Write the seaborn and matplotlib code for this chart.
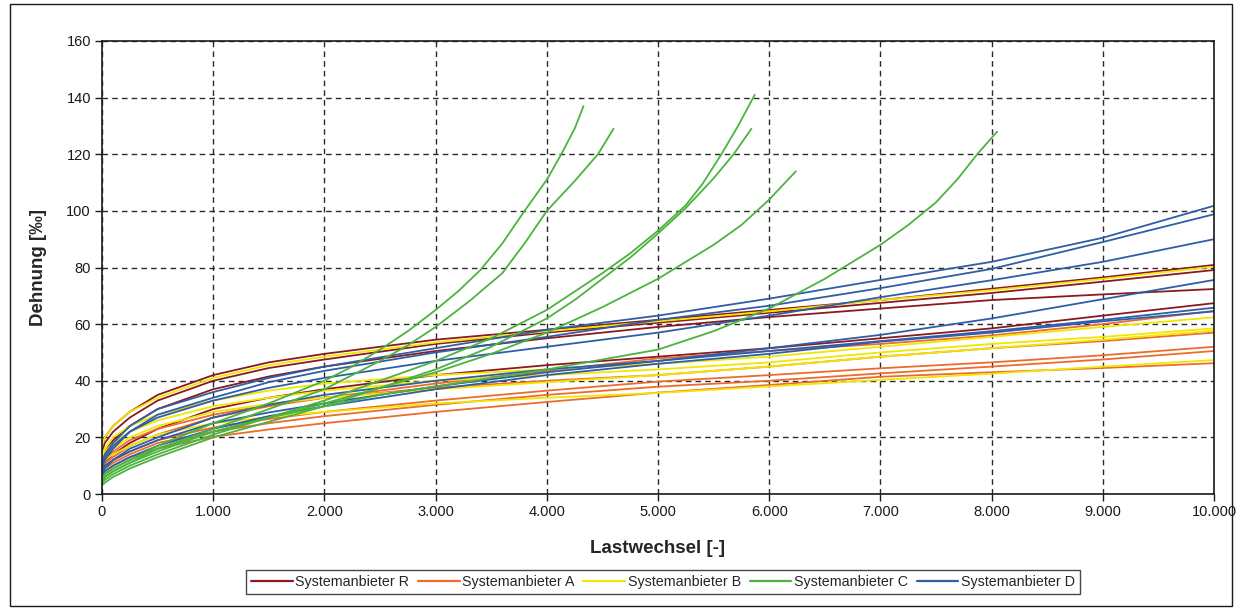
import numpy as np
import pandas as pd
import matplotlib
matplotlib.use("Agg")
import matplotlib.pyplot as plt
from matplotlib.lines import Line2D
from matplotlib.patches import Rectangle
import seaborn as sns

# ---------------- data ----------------
X = [0, 25, 100, 250, 500, 1000, 1500, 2000, 3000, 4000, 5000, 6000, 7000, 8000, 9000, 10000]

# Systemanbieter R (dark red)
R1 = [17, 20, 24, 29, 35, 42, 46.5, 49.5, 54.5, 58, 61.5, 65, 68.5, 72.5, 76.5, 80.9]
R2 = [15, 18, 22, 27, 33, 40, 44.5, 47.5, 53, 57, 60.5, 64, 67.5, 71, 75, 79.1]
R3 = [12, 15, 19, 24, 30, 37, 41.5, 45, 50.5, 55, 59, 62.5, 65.5, 68.5, 70.5, 72.4]
R4 = [9, 11, 14, 18, 23, 30, 34, 37, 42, 45.5, 48.5, 51.5, 55, 58.5, 63, 67.4]

# Systemanbieter A (orange)
A1 = [9, 11, 13, 17, 21, 27, 31, 34, 39, 43.5, 47.9, 50.5, 53, 56, 60, 64.7]
A2 = [10, 12, 15, 19, 23, 28, 31.5, 34, 37.5, 40, 42, 45, 48.5, 51.5, 54, 57]
A3 = [8, 10, 12, 15, 19, 23.5, 26.5, 29, 33, 36.5, 39.7, 42, 44.4, 46.5, 49, 52]
A4 = [7, 8, 10, 13, 16, 20.2, 22.8, 25, 29, 32.5, 35.8, 38.5, 41.4, 43, 44.5, 46.2]
A5 = [8, 9, 11, 14, 18, 22, 25, 27.5, 31.5, 35, 37.9, 40, 42.6, 45, 47.5, 50.5]

# Systemanbieter B (yellow)
B1 = [17, 20, 24, 29, 34, 41, 45.5, 48.5, 53.5, 57.5, 61, 64.5, 68.5, 72, 76, 80.3]
B2 = [14, 16, 20, 24, 28, 33, 36.5, 39, 42, 44, 46, 48.5, 52, 55.5, 59, 62.4]
B3 = [13, 15, 18, 22, 26, 31, 34, 36.5, 40, 42, 44, 46.5, 50, 53, 55.5, 58.5]
B4 = [11, 13, 16, 20, 24, 29, 31.8, 34, 37, 39.5, 42, 45, 48.5, 51.5, 54.5, 57.7]
B5 = [10, 12, 14, 17, 21, 25, 27.2, 29, 32, 34, 35.7, 38, 40.3, 42.5, 45, 47.3]

# Systemanbieter D (blue)
D1 = [10, 14, 18, 24, 30, 36, 41, 45, 51.5, 58, 63, 69, 75.6, 82, 90.5, 101.8]
D2 = [9, 12, 16, 22, 28, 34, 39.5, 43.5, 50, 55.5, 61.5, 66.5, 72.7, 79.5, 89, 98.8]
D3 = [11, 13, 17, 22, 27, 33, 37.5, 41, 47, 52, 57, 63, 69.5, 75.5, 82, 90]
D4 = [8, 10, 12, 15, 19, 25, 28.8, 32, 38, 43, 47, 51.5, 56.2, 62, 68.8, 75.6]
D5 = [7, 9, 12, 16, 20, 27, 31.5, 35, 40, 44, 47, 50.5, 54, 57.5, 61.5, 65.8]
D6 = [6, 8, 10, 13, 17, 23, 27.5, 31, 37, 42, 46, 49.5, 53.8, 57, 61, 64.5]

# Systemanbieter C (green) - each test stops at its own end
C1_x = [0, 25, 100, 250, 500, 1000, 1500, 2000, 2250, 2500, 2750, 3000, 3200, 3400, 3600,
        3800, 4000, 4130, 4250, 4330]
C1_y = [5, 7, 9, 12, 17, 25, 32, 40, 45, 51, 57.5, 65, 71.5, 79, 88.5, 100, 111, 120, 129, 137]
C2_x = [0, 25, 100, 250, 500, 1000, 1500, 2000, 2500, 2750, 3000, 3300, 3600, 3800, 4000,
        4250, 4460, 4600]
C2_y = [4, 6, 8, 11, 16, 23, 30, 37, 47, 52.5, 59, 68, 78, 88.5, 100, 110.5, 120, 129]
C3_x = [0, 25, 100, 250, 500, 1000, 1500, 2000, 2500, 3000, 3500, 4000, 4250, 4500, 4750,
        5000, 5250, 5400, 5570, 5720, 5870]
C3_y = [4, 5, 7, 10, 14, 21, 27, 33, 40, 47, 55, 65, 71.5, 78, 85, 93, 102, 109.5, 120, 130, 141]
C4_x = [0, 25, 100, 250, 500, 1000, 1500, 2000, 2500, 3000, 3500, 4000, 4250, 4500, 4750,
        5000, 5250, 5500, 5680, 5840]
C4_y = [3, 4, 6, 9, 13, 20, 25.5, 31, 37.5, 44, 52, 62, 68.5, 76, 83.5, 92, 101, 111.5, 120, 129]
C5_x = [0, 25, 100, 250, 500, 1000, 1500, 2000, 2500, 3000, 3500, 4000, 4500, 5000, 5250,
        5500, 5750, 5890, 6000, 6120, 6240]
C5_y = [5, 6, 8, 11, 15, 22, 27, 32, 37.5, 43, 49.5, 57, 66, 76, 82, 88, 95, 100, 104, 109, 114]
C6_x = [0, 25, 100, 250, 500, 1000, 1500, 2000, 2500, 3000, 3500, 4000, 4500, 5000, 5500,
        6000, 6500, 7000, 7250, 7500, 7700, 7870, 8050]
C6_y = [6, 7, 9, 12, 16, 22, 27, 31, 35, 38, 41, 44, 47.5, 51, 57.5, 65.5, 76, 88, 95, 103,
        111.5, 120, 128]

SUPPLIERS = ["Systemanbieter R", "Systemanbieter A", "Systemanbieter B",
             "Systemanbieter C", "Systemanbieter D"]
COLORS = {"Systemanbieter R": "#8b1a1f",
          "Systemanbieter A": "#ec6b2d",
          "Systemanbieter B": "#f2e600",
          "Systemanbieter C": "#4cb33e",
          "Systemanbieter D": "#2f5ea6"}

X_TICKS = list(range(0, 10001, 1000))
X_TICKLABELS = ["0", "1.000", "2.000", "3.000", "4.000", "5.000",
                "6.000", "7.000", "8.000", "9.000", "10.000"]
Y_TICKS = list(range(0, 161, 20))

# ---------------- build long table ----------------
rows = []
def add(name, sup, xs, ys):
    for xv, yv in zip(xs, ys):
        rows.append({"Lastwechsel": xv, "Dehnung": yv, "curve": name, "supplier": sup})

for n, c in [("R1", R1), ("R2", R2), ("R3", R3), ("R4", R4)]:
    add(n, "Systemanbieter R", X, c)
for n, c in [("A1", A1), ("A2", A2), ("A3", A3), ("A4", A4), ("A5", A5)]:
    add(n, "Systemanbieter A", X, c)
for n, c in [("B1", B1), ("B2", B2), ("B3", B3), ("B4", B4), ("B5", B5)]:
    add(n, "Systemanbieter B", X, c)
for n, cx, cy in [("C1", C1_x, C1_y), ("C2", C2_x, C2_y), ("C3", C3_x, C3_y),
                  ("C4", C4_x, C4_y), ("C5", C5_x, C5_y), ("C6", C6_x, C6_y)]:
    add(n, "Systemanbieter C", cx, cy)
for n, c in [("D1", D1), ("D2", D2), ("D3", D3), ("D4", D4), ("D5", D5), ("D6", D6)]:
    add(n, "Systemanbieter D", X, c)
df = pd.DataFrame(rows)

# ---------------- plot ----------------
sns.set_style("white")
plt.rcParams["font.family"] = ["Liberation Sans", "DejaVu Sans"]

fig = plt.figure(figsize=(12.44, 6.08), dpi=100)
ax = fig.add_axes([102 / 1244, 1 - 494 / 608, (1214 - 102) / 1244, (494 - 41) / 608])

order = ["Systemanbieter R", "Systemanbieter A", "Systemanbieter B",
         "Systemanbieter D", "Systemanbieter C"]
for sup in order:
    sub = df[df["supplier"] == sup]
    sns.lineplot(data=sub, x="Lastwechsel", y="Dehnung", units="curve",
                 estimator=None, color=COLORS[sup], linewidth=1.3,
                 sort=False, ax=ax, legend=False)

ax.set_xlim(0, 10000)
ax.set_ylim(0, 160)
ax.set_xticks(X_TICKS)
ax.set_xticklabels(X_TICKLABELS)
ax.set_yticks(Y_TICKS)
ax.grid(True, linestyle=(0, (4, 3)), color="#2a2a2a", linewidth=1.0)
ax.set_axisbelow(True)
for s in ax.spines.values():
    s.set_visible(True)
    s.set_color("#1a1a1a")
    s.set_linewidth(1.2)
ax.tick_params(axis="both", direction="out", length=5, width=1, color="#1a1a1a",
               labelsize=10.5, labelcolor="#1a1a1a", pad=3)
ax.tick_params(axis="y", left=True)
ax.tick_params(axis="x", bottom=True)

ax.set_xlabel("Lastwechsel [-]", fontsize=13.5, fontweight="bold", labelpad=15)
ax.set_ylabel("Dehnung [‰]", fontsize=13.5, fontweight="bold", labelpad=14)

handles = [Line2D([0], [0], color=COLORS[s], linewidth=1.6) for s in SUPPLIERS]
leg = fig.legend(handles, SUPPLIERS, loc="center", bbox_to_anchor=(663 / 1244, 1 - 582 / 608),
                 ncol=5, fontsize=10.3, frameon=True, fancybox=False, edgecolor="#1a1a1a",
                 handlelength=2.9, handletextpad=0.2, columnspacing=0.6,
                 borderpad=0.35)
leg.get_frame().set_linewidth(1.0)

fig.patches.append(Rectangle((10 / 1244, 2 / 608), (1232 - 10) / 1244, (596 - 2) / 608 + 8 / 608,
                             transform=fig.transFigure, fill=False,
                             edgecolor="#1a1a1a", linewidth=1.0))

fig.savefig("out.png", dpi=100)
